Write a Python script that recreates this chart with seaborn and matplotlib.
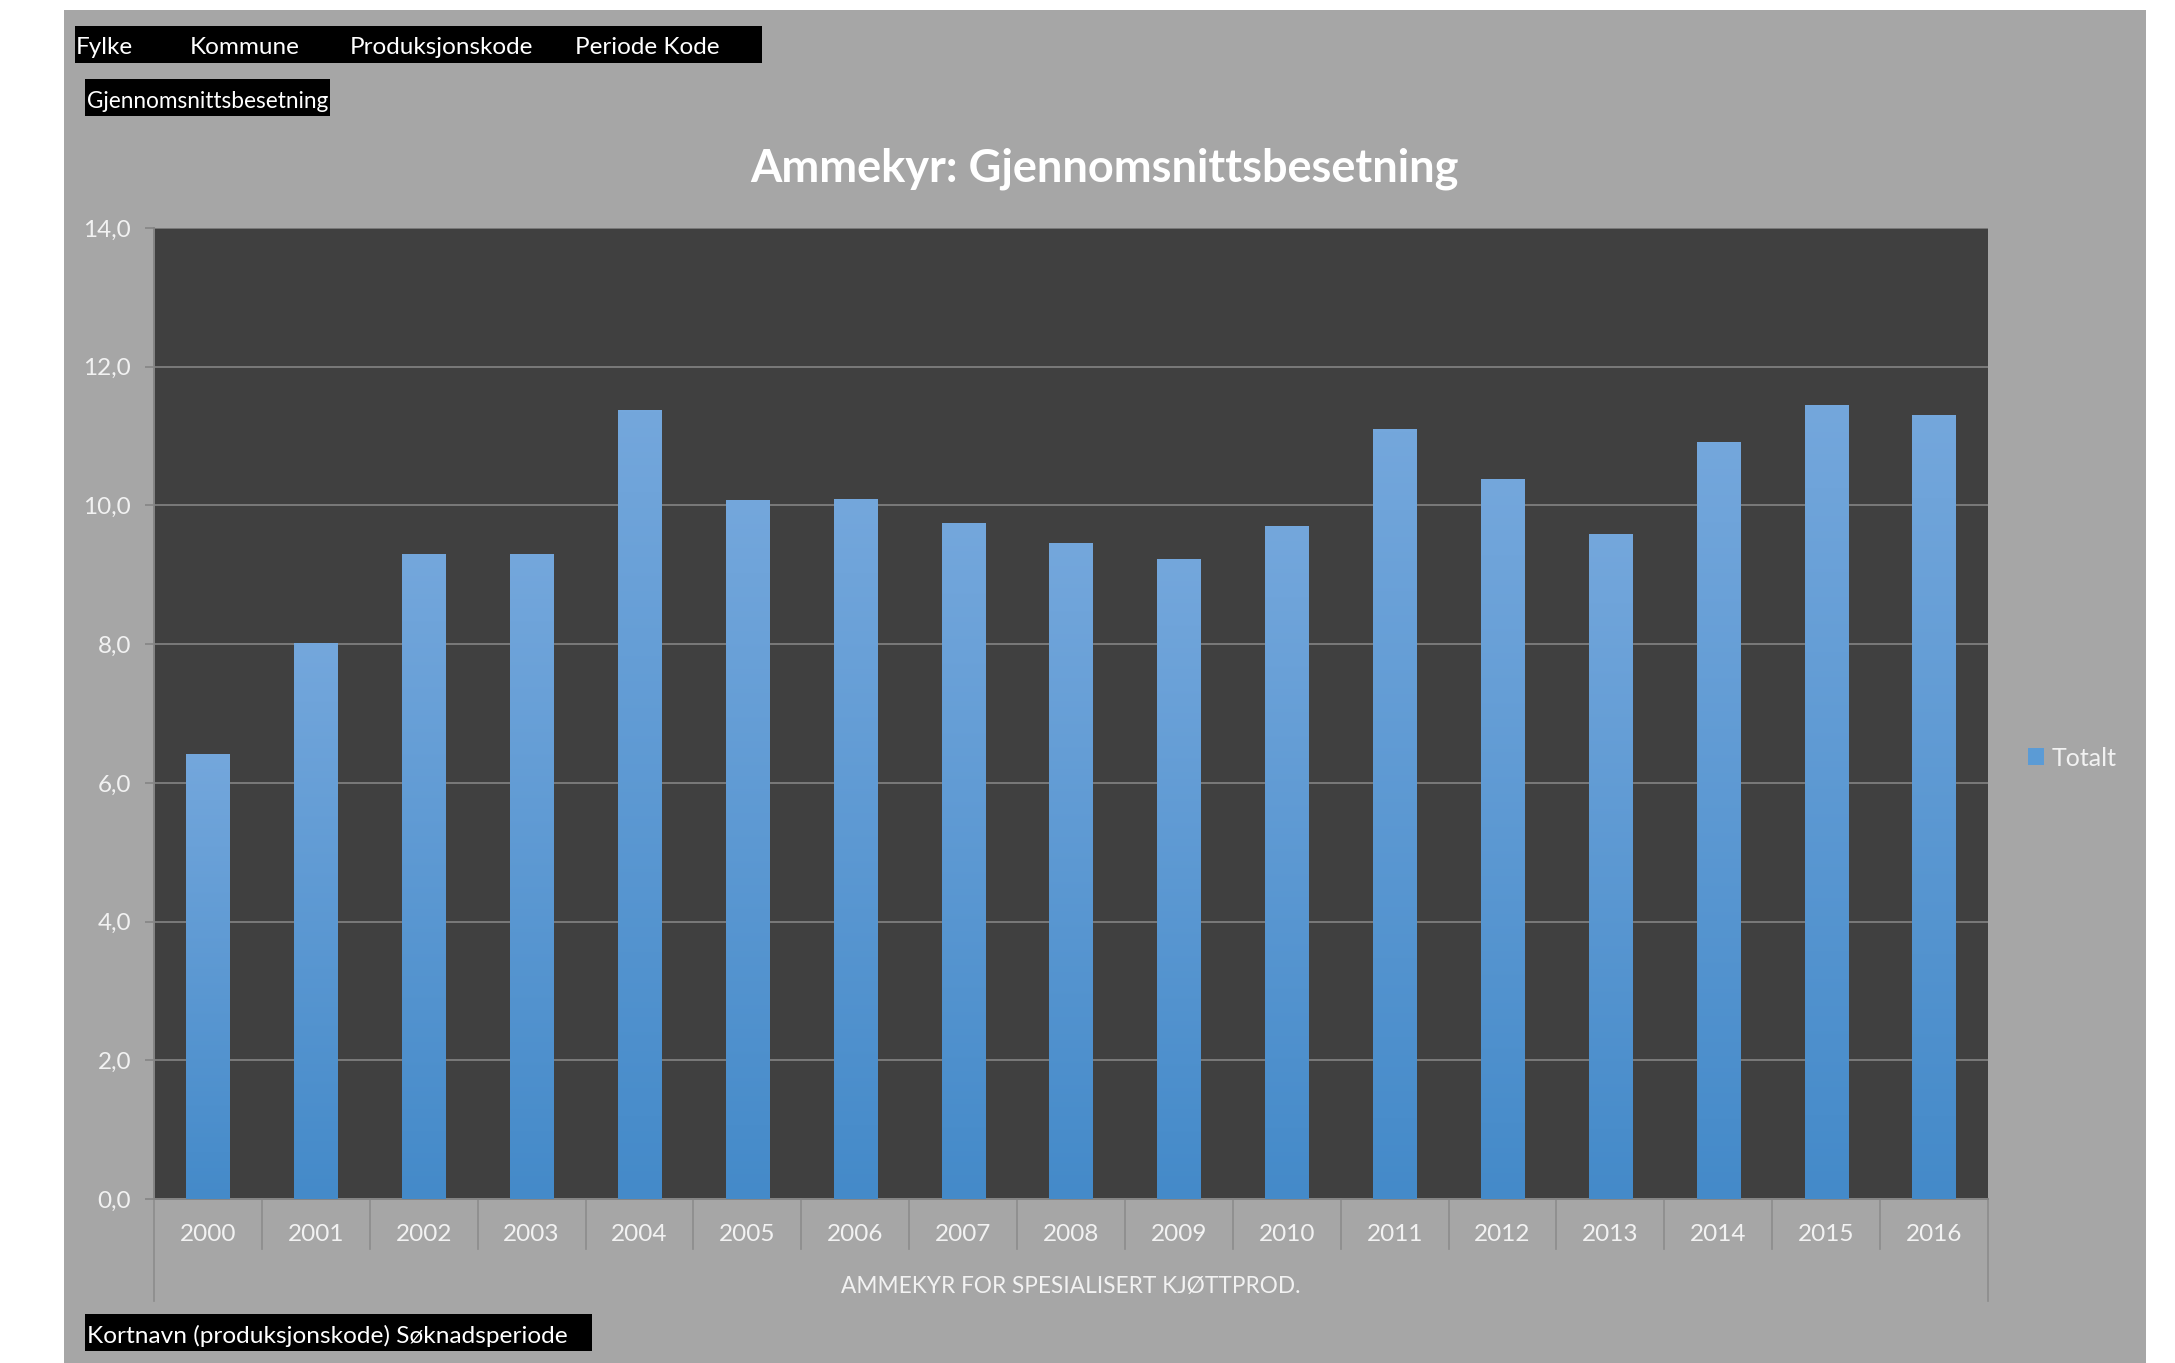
import numpy as np
import pandas as pd
import seaborn as sns
import matplotlib.pyplot as plt
import matplotlib.transforms as mtransforms
from matplotlib.patches import Rectangle, Patch
from matplotlib.colors import LinearSegmentedColormap

# data
years = [str(y) for y in range(2000, 2017)]
totalt = [6.42, 8.01, 9.30, 9.30, 11.38, 10.08, 10.09, 9.75, 9.46,
          9.23, 9.70, 11.10, 10.38, 9.59, 10.91, 11.45, 11.30]
yticks = [0, 2, 4, 6, 8, 10, 12, 14]
filter_labels = ["Fylke", "Kommune", "Produksjonskode", "Periode Kode"]
value_label = "Gjennomsnittsbesetning"
row_label = "Kortnavn (produksjonskode) Søknadsperiode"
group_label = "AMMEKYR FOR SPESIALISERT KJØTTPROD."
title = "Ammekyr: Gjennomsnittsbesetning"
series_name = "Totalt"

df = pd.DataFrame({"year": years, "value": totalt})

W, H = 2175, 1363
BG = "#a6a6a6"
PLOT_BG = "#404040"
GRID = "#7a7a7a"
TXT = "#f2f2f2"
FONT = ["Lato", "DejaVu Sans"]

plt.rcParams["font.family"] = FONT

def fx(x):
    return x / W

def fy(y):
    return 1 - y / H

fig = plt.figure(figsize=(W / 100, H / 100), dpi=100)
fig.patch.set_facecolor("white")
fig.add_artist(Rectangle((fx(64), 0), fx(2146 - 64), (H - 10) / H,
                         transform=fig.transFigure, facecolor=BG,
                         edgecolor="none", zorder=0))

ax = fig.add_axes([fx(154), fy(1199), fx(1988 - 154), (1199 - 228) / H])
ax.set_facecolor(PLOT_BG)

sns.barplot(data=df, x="year", y="value", color="#5b9bd5", width=0.4,
            saturation=1, ax=ax, zorder=3)

# vertical gradient on each bar, like the Excel fill
cmap = LinearSegmentedColormap.from_list("bar", ["#448ac9", "#74a7dc"])
grad = np.linspace(0, 1, 256).reshape(-1, 1)
for p in list(ax.patches):
    x0, y0 = p.get_x(), p.get_y()
    w, h = p.get_width(), p.get_height()
    im = ax.imshow(grad, cmap=cmap, origin="lower", aspect="auto",
                   extent=[x0, x0 + w, y0, y0 + h], zorder=4)
    im.set_clip_path(p)

ax.set_xlim(-0.5, len(years) - 0.5)
ax.set_ylim(0, 14)
ax.set_yticks(yticks)
ax.set_yticklabels([f"{v:.1f}".replace(".", ",") for v in yticks])
ax.yaxis.grid(True, color=GRID, linewidth=1.4)
ax.xaxis.grid(False)
ax.set_axisbelow(True)
for s in ["top", "right"]:
    ax.spines[s].set_visible(False)
ax.spines["left"].set_color("#858585")
ax.spines["left"].set_linewidth(1.4)
ax.spines["bottom"].set_color("#858585")
ax.spines["bottom"].set_linewidth(1.4)
ax.tick_params(axis="y", colors="#858585", labelcolor=TXT, labelsize=17.5,
               length=6.5, width=1.2, pad=10)
ax.tick_params(axis="x", labelcolor=TXT, labelsize=17.5, length=0, pad=18)
ax.set_xlabel("")
ax.set_ylabel("")

# category separators below the axis (Excel multi-level axis)
trans = mtransforms.blended_transform_factory(ax.transData, ax.transAxes)
sep = 50 / 971
outer = 102 / 971
for i in range(len(years) + 1):
    depth = outer if i in (0, len(years)) else sep
    ax.plot([i - 0.5, i - 0.5], [0, -depth], transform=trans,
            color="#8c8c8c", linewidth=1.2, clip_on=False)
ax.text(0.5, -87 / 971, group_label, transform=ax.transAxes, ha="center",
        va="center", color=TXT, fontsize=16.3)

fig.text(fx(1105), fy(169), title, ha="center", va="center", color="white",
         fontsize=32.5, fontweight="bold")

# legend
ax.legend(handles=[Patch(facecolor="#5b9bd5", edgecolor="none")],
          labels=[series_name], loc="center left",
          bbox_to_anchor=(fx(2028), fy(758)), bbox_transform=fig.transFigure,
          frameon=False, fontsize=18, labelcolor=TXT, handlelength=0.65,
          handleheight=0.65, handletextpad=0.3, borderpad=0, borderaxespad=0)

# pivot field buttons
def black_box(x0, y0, x1, y1):
    fig.add_artist(Rectangle((fx(x0), fy(y1)), fx(x1 - x0), (y1 - y0) / H,
                             transform=fig.transFigure, facecolor="black",
                             edgecolor="none", zorder=1))

black_box(75, 26, 762, 63)
for xpos, lab in zip([76, 190, 350, 575], filter_labels):
    fig.text(fx(xpos), fy(48), lab, ha="left", va="center", color="white",
             fontsize=17.5, zorder=2)

black_box(85, 79, 330, 116)
fig.text(fx(87), fy(101), value_label, ha="left", va="center", color="white",
         fontsize=16.3, zorder=2)

black_box(85, 1314, 592, 1351)
fig.text(fx(87), fy(1336), row_label, ha="left", va="center", color="white",
         fontsize=17.6, zorder=2)

fig.savefig("out.png", dpi=100, facecolor=fig.get_facecolor())
